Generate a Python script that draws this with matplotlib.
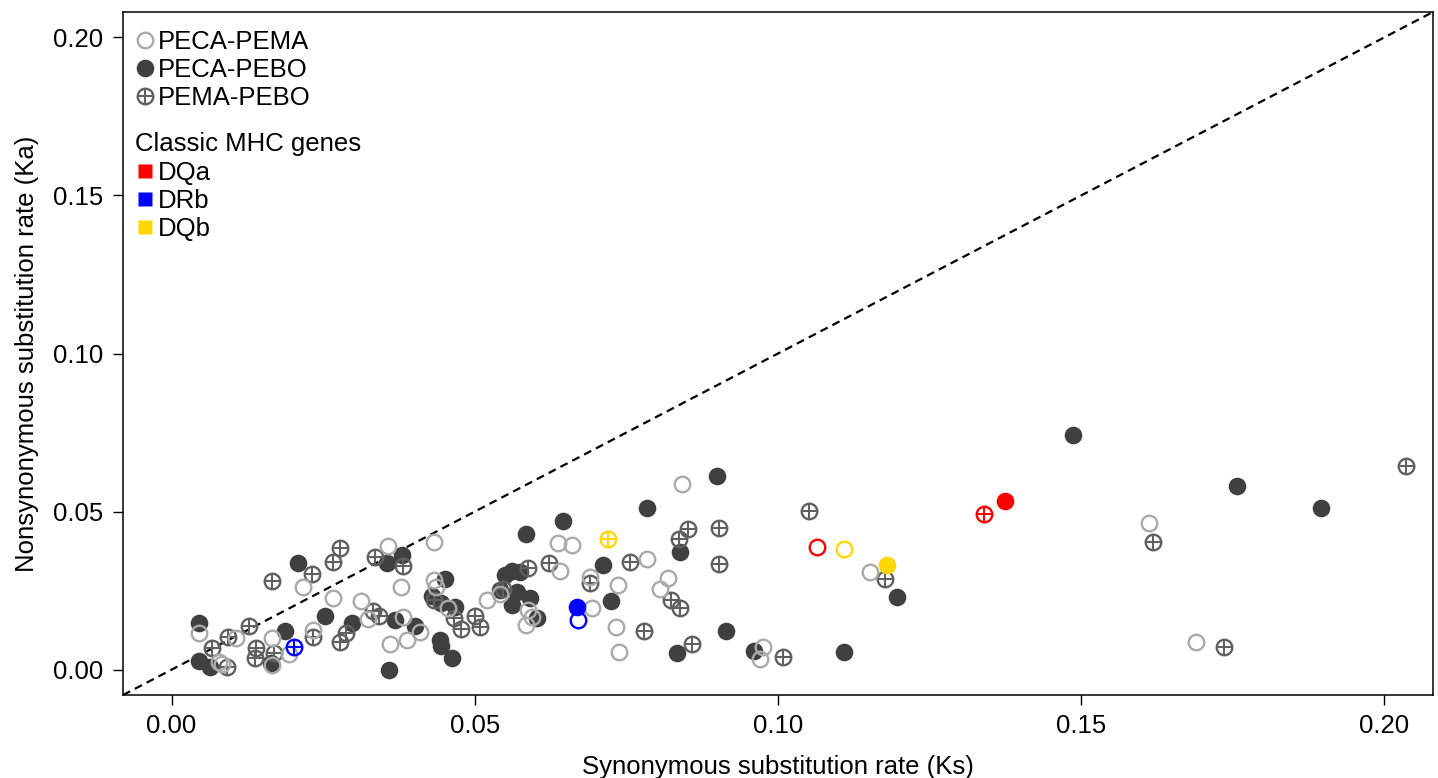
import matplotlib
matplotlib.use('Agg')
import matplotlib.pyplot as plt
from matplotlib.lines import Line2D
import numpy as np

plt.rcParams['font.family'] = ['Liberation Sans', 'DejaVu Sans']

# Ks / Ka per gene, one pair of lists per species comparison
peca_pema_ks = [0.0046, 0.0079, 0.0083, 0.0106, 0.0166, 0.0165, 0.0194, 0.0216,
                0.0234, 0.0266, 0.0312, 0.0324, 0.0357, 0.0378, 0.0381, 0.0410,
                0.0361, 0.0388, 0.0432, 0.0432, 0.0436, 0.0456, 0.0521, 0.0542,
                0.0588, 0.0594, 0.0585, 0.0638, 0.0661, 0.0641, 0.0690, 0.0693,
                0.0736, 0.0733, 0.0738, 0.0784, 0.0819, 0.0806, 0.0841, 0.0976,
                0.0970, 0.1151, 0.1612, 0.1689]
peca_pema_ka = [0.0115, 0.0025, 0.0018, 0.0099, 0.0101, 0.0015, 0.0049, 0.0262,
                0.0126, 0.0228, 0.0218, 0.0160, 0.0390, 0.0261, 0.0167, 0.0118,
                0.0082, 0.0095, 0.0405, 0.0284, 0.0263, 0.0194, 0.0220, 0.0240,
                0.0189, 0.0168, 0.0140, 0.0400, 0.0393, 0.0312, 0.0294, 0.0194,
                0.0268, 0.0135, 0.0055, 0.0350, 0.0290, 0.0256, 0.0586, 0.0073,
                0.0034, 0.0309, 0.0463, 0.0087]

peca_pebo_ks = [0.0045, 0.0046, 0.0063, 0.0164, 0.0187, 0.0208, 0.0253, 0.0298,
                0.0355, 0.0380, 0.0369, 0.0402, 0.0358, 0.0443, 0.0445, 0.0462,
                0.0451, 0.0430, 0.0445, 0.0468, 0.0550, 0.0561, 0.0575, 0.0542,
                0.0569, 0.0591, 0.0561, 0.0602, 0.0584, 0.0646, 0.0712, 0.0725,
                0.0784, 0.0838, 0.0833, 0.0900, 0.0915, 0.0960, 0.1109, 0.1197,
                0.1486, 0.1756, 0.1896]
peca_pebo_ka = [0.0147, 0.0027, 0.0010, 0.0020, 0.0122, 0.0338, 0.0169, 0.0148,
                0.0336, 0.0363, 0.0157, 0.0138, 0.0000, 0.0094, 0.0074, 0.0036,
                0.0287, 0.0234, 0.0210, 0.0198, 0.0298, 0.0313, 0.0310, 0.0252,
                0.0247, 0.0226, 0.0205, 0.0165, 0.0428, 0.0471, 0.0331, 0.0218,
                0.0510, 0.0371, 0.0052, 0.0613, 0.0123, 0.0060, 0.0056, 0.0231,
                0.0742, 0.0581, 0.0512]

pema_pebo_ks = [0.0066, 0.0093, 0.0092, 0.0127, 0.0139, 0.0137, 0.0165, 0.0169,
                0.0231, 0.0233, 0.0277, 0.0266, 0.0288, 0.0278, 0.0336, 0.0381,
                0.0333, 0.0342, 0.0433, 0.0465, 0.0478, 0.0500, 0.0509, 0.0547,
                0.0587, 0.0622, 0.0690, 0.0756, 0.0779, 0.0824, 0.0838, 0.0837,
                0.0852, 0.0858, 0.0902, 0.0903, 0.1009, 0.1051, 0.1176, 0.1618,
                0.1736, 0.2035]
pema_pebo_ka = [0.0068, 0.0104, 0.0008, 0.0137, 0.0068, 0.0037, 0.0280, 0.0052,
                0.0304, 0.0103, 0.0385, 0.0340, 0.0117, 0.0087, 0.0357, 0.0328,
                0.0185, 0.0171, 0.0221, 0.0165, 0.0130, 0.0171, 0.0136, 0.0255,
                0.0321, 0.0338, 0.0273, 0.0340, 0.0123, 0.0220, 0.0194, 0.0413,
                0.0446, 0.0080, 0.0449, 0.0333, 0.0039, 0.0502, 0.0287, 0.0405,
                0.0073, 0.0644]

# classic MHC genes, highlighted in colour
mhc_genes = ['DQa', 'DRb', 'DQb']
mhc_colors = ['#ff0000', '#0000ff', '#ffd700']
mhc_peca_pema_ks = [0.1064, 0.0671, 0.1108]
mhc_peca_pema_ka = [0.0389, 0.0157, 0.0381]
mhc_peca_pebo_ks = [0.1375, 0.0669, 0.1180]
mhc_peca_pebo_ka = [0.0534, 0.0197, 0.0332]
mhc_pema_pebo_ks = [0.1340, 0.0202, 0.0720]
mhc_pema_pebo_ka = [0.0491, 0.0071, 0.0414]

series_names = ['PECA-PEMA', 'PECA-PEBO', 'PEMA-PEBO']
open_col = '#aaaaaa'
filled_col = '#404040'
cross_col = '#606060'

MS = 11.2
MEW = 1.7
FS = 18.5


def open_kw(color):
    return dict(ls='none', marker='o', ms=MS, mfc='none', mec=color, mew=MEW)


def filled_kw(color):
    return dict(ls='none', marker='o', ms=MS + 1.5, mfc=color, mec='none', mew=0)


def plus_kw(color):
    return dict(ls='none', marker='+', ms=MS, mec=color, mew=1.5)


def plot_cross(ax, x, y, color):
    ax.plot(x, y, **open_kw(color))
    ax.plot(x, y, **plus_kw(color))


fig = plt.figure(figsize=(14.38, 7.78), dpi=100)
ax = fig.add_axes([123 / 1438, 1 - 695 / 778, 1310 / 1438, 683 / 778])

ax.axline((0, 0), slope=1, color='black', ls=(0, (3.6, 2.4)), lw=1.6, zorder=1)

ax.plot(peca_pebo_ks, peca_pebo_ka, **filled_kw(filled_col))
plot_cross(ax, pema_pebo_ks, pema_pebo_ka, cross_col)
ax.plot(peca_pema_ks, peca_pema_ka, **open_kw(open_col))

for i, c in enumerate(mhc_colors):
    ax.plot(mhc_peca_pebo_ks[i], mhc_peca_pebo_ka[i], **filled_kw(c))
    ax.plot(mhc_peca_pema_ks[i], mhc_peca_pema_ka[i], **open_kw(c))
    plot_cross(ax, mhc_pema_pebo_ks[i], mhc_pema_pebo_ka[i], c)

ax.set_xlim(-0.008, 0.208)
ax.set_ylim(-0.008, 0.208)
ticks = np.arange(0, 0.201, 0.05)
ax.set_xticks(ticks)
ax.set_yticks(ticks)
ax.set_xticklabels(['%.2f' % t for t in ticks])
ax.set_yticklabels(['%.2f' % t for t in ticks])
ax.tick_params(direction='out', length=7, width=1, labelsize=FS, pad=7)
for sp in ax.spines.values():
    sp.set_linewidth(1.1)

ax.set_xlabel('Synonymous substitution rate (Ks)', fontsize=FS, labelpad=12)
ax.set_ylabel('Nonsynonymous substitution rate (Ka)', fontsize=FS, labelpad=10)

# legend: comparisons
h_open = Line2D([], [], **open_kw(open_col))
h_filled = Line2D([], [], **filled_kw(filled_col))
h_cross = (Line2D([], [], **open_kw(cross_col)), Line2D([], [], **plus_kw(cross_col)))
leg1 = ax.legend([h_open, h_filled, h_cross], series_names, loc='upper left',
                 bbox_to_anchor=(-0.0046, 1), frameon=False, fontsize=FS,
                 handlelength=0.8, handletextpad=0.1, labelspacing=0.15,
                 borderaxespad=0.5, borderpad=0.2)
ax.add_artist(leg1)

# legend: classic MHC genes
sq = [Line2D([], [], ls='none', marker='s', ms=10.5, mfc=c, mec='none') for c in mhc_colors]
leg2 = ax.legend(sq, mhc_genes, title='Classic MHC genes', loc='upper left',
                 bbox_to_anchor=(-0.0046, 0.85), frameon=False, fontsize=FS,
                 title_fontsize=FS, alignment='left',
                 handlelength=0.8, handletextpad=0.1, labelspacing=0.16,
                 borderaxespad=0.5, borderpad=0.2)

fig.savefig('out.png', dpi=100)
